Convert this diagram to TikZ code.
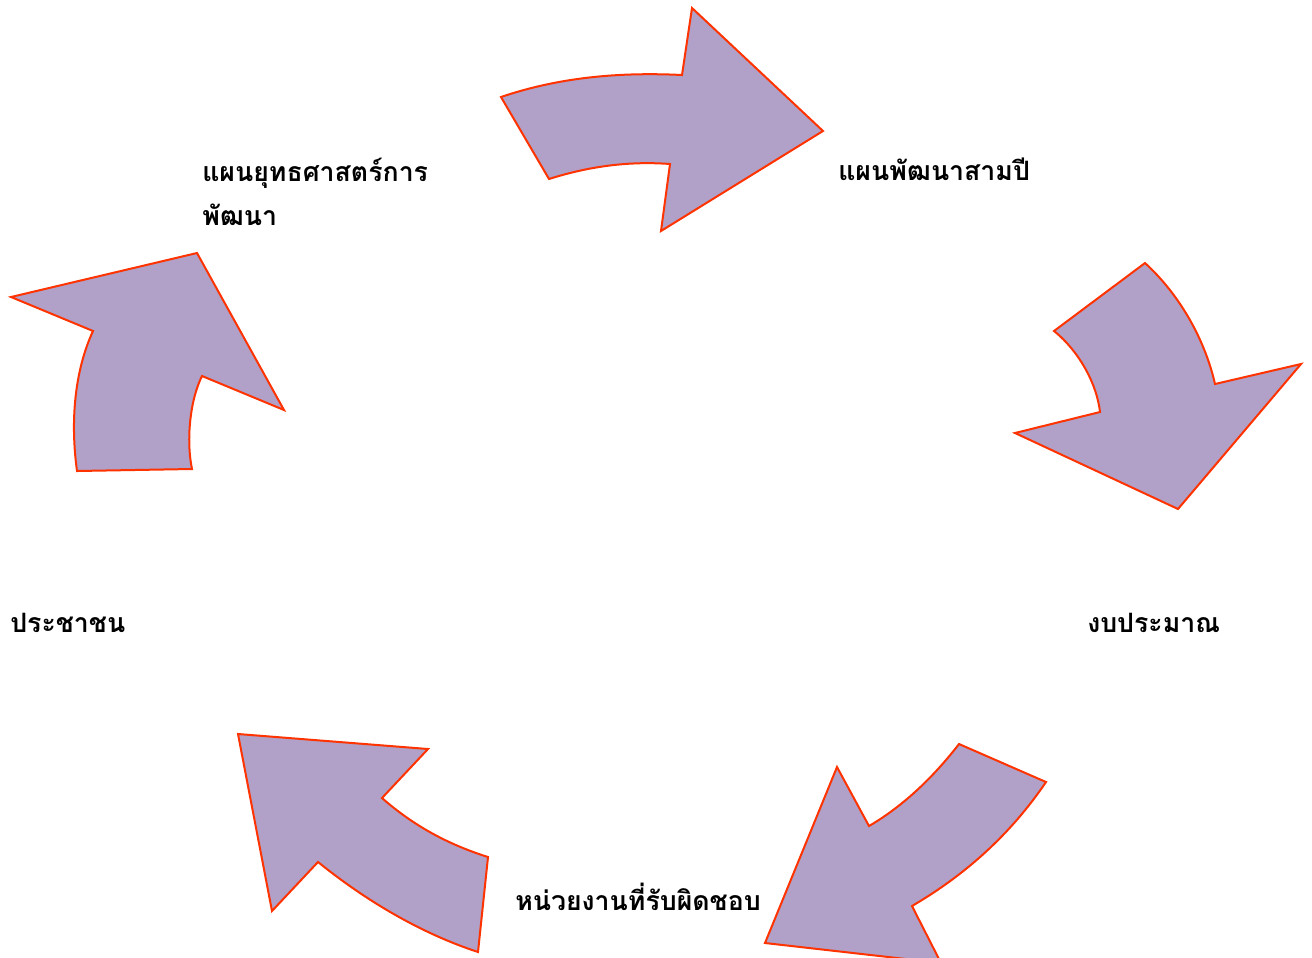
\documentclass[tikz,border=0pt]{standalone}
\usepackage{fontspec}
\newfontfamily\thaifont[Script=Thai]{Loma}
\definecolor{arrowfill}{RGB}{177,160,199}
\definecolor{arrowline}{RGB}{255,51,0}
\begin{document}
\begin{tikzpicture}[x=0.75pt,y=-0.75pt,
  cyclearrow/.style={fill=arrowfill,draw=arrowline,line width=1.5pt,line join=miter},
  lbl/.style={anchor=base west,inner sep=0pt,font=\thaifont\bfseries\fontsize{20}{26}\selectfont,text=black}]
\useasboundingbox (0,0) rectangle (1312,957);
\clip (0,0) rectangle (1312,957);
% top arrow
\draw[cyclearrow] (501,97) .. controls (560,77) and (620,72) .. (682,75)
  -- (692,8) -- (823,131) -- (661,231) -- (670,164)
  .. controls (630,161) and (590,166) .. (549,179) -- cycle;
% right arrow
\draw[cyclearrow] (1145,263) .. controls (1180,295) and (1205,340) .. (1215,384)
  -- (1301,364) -- (1178,509) -- (1015,433) -- (1100,412)
  .. controls (1097,385) and (1080,352) .. (1054,331) -- cycle;
% bottom right arrow
\draw[cyclearrow] (1046,782) .. controls (1010,835) and (965,875) .. (912,906)
  -- (941,963) -- (765,943) -- (837,767) -- (869,826)
  .. controls (905,805) and (935,775) .. (959,744) -- cycle;
% bottom left arrow
\draw[cyclearrow] (478,952) .. controls (420,933) and (365,900) .. (318,862)
  -- (272,911) -- (238,734) -- (428,749) -- (382,798)
  .. controls (415,827) and (450,845) .. (488,857) -- cycle;
% left arrow
\draw[cyclearrow] (77,471) .. controls (70,420) and (75,370) .. (93,331)
  -- (11,297) -- (197,253) -- (284,410) -- (202,376)
  .. controls (190,400) and (186,440) .. (192,469) -- cycle;
% labels
\node[lbl] (strat) at (202,181) {แผนยุทธศาสตร์การ};
\node[lbl] (strat2) at (202,225) {พัฒนา};
\node[lbl] (three) at (838,180) {แผนพัฒนาสามปี};
\node[lbl] (budget) at (1087,632) {งบประมาณ};
\node[lbl] (people) at (10,632) {ประชาชน};
\node[lbl] (agency) at (515,910) {หน่วยงานที่รับผิดชอบ};
\end{tikzpicture}
\end{document}
